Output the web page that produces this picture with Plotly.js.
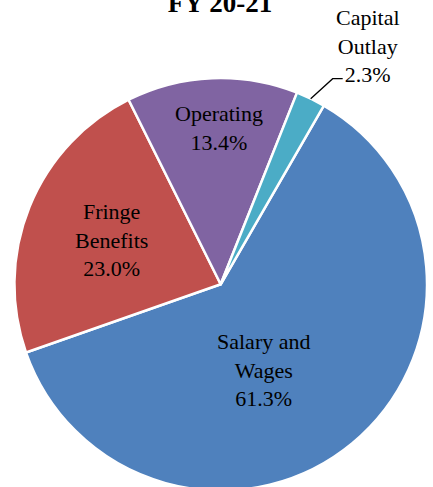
<!DOCTYPE html>
<html>
<head>
<meta charset="utf-8">
<script src="https://cdn.plot.ly/plotly-3.0.1.min.js"></script>
<style>
html,body{margin:0;padding:0;overflow:hidden;background:#fff;}
#chart{width:433px;height:495px;}
</style>
</head>
<body>
<div id="chart"></div>
<script>
// ---- data ----
const categories = ["Salary and Wages", "Fringe Benefits", "Operating", "Capital Outlay"];
const labelText = ["Salary and<br>Wages", "Fringe<br>Benefits", "Operating", "Capital<br>Outlay"];
const values = [61.3, 23.0, 13.4, 2.3];
const titleText = "FY 20-21";

// ---- styles / layout ----
const colors = ["#4F81BD", "#C0504D", "#8064A2", "#4BACC6"];
const W = 433, H = 495;
const cx = 220.7, cy = 284.3, R = 206.3;   // pixel geometry of the pie
const rotation = 30;                      // start angle of first slice (clockwise from 12 o'clock)
// label offsets from pie centre (pixels)
const labelOff = [[42.3, 85.7], [-109.7, -44.3], [-1.7, -156.8], [147.3, -238.3]];
const serif = "Liberation Serif, Times New Roman, serif";

const px = x => x / W;
const py = y => (H - y) / H;
const total = values.reduce((a, b) => a + b, 0);

const annotations = values.map((v, i) => ({
  xref: "paper", yref: "paper",
  x: px(cx + labelOff[i][0]), y: py(cy + labelOff[i][1]),
  xanchor: "center", yanchor: "middle",
  text: labelText[i] + "<br>" + v.toFixed(1) + "%",
  showarrow: false,
  font: {family: serif, size: 22, color: "#000"}
}));

// leader line for the small slice (last)
let cum = 0;
for (let i = 0; i < values.length - 1; i++) cum += values[i];
const midA = (rotation + (cum + values[values.length - 1] / 2) / total * 360) * Math.PI / 180;
const sx = cx + R * Math.sin(midA), sy = cy - R * Math.cos(midA);
const shapes = [{
  type: "path", xref: "paper", yref: "paper",
  path: `M ${px(sx)} ${py(sy)} L ${px(sx + 22)} ${py(sy - 20)} L ${px(sx + 32)} ${py(sy - 20)}`,
  line: {color: "#000", width: 1.3}
}];

const trace = {
  type: "pie",
  labels: categories,
  values: values,
  sort: false,
  direction: "clockwise",
  rotation: rotation,
  textinfo: "none",
  hoverinfo: "label+percent",
  marker: {colors: colors, line: {color: "#ffffff", width: 2.5}},
  domain: {x: [px(cx - R), px(cx + R)], y: [py(cy + R), py(cy - R)]},
  showlegend: false
};

const layout = {
  width: W, height: H,
  margin: {l: 0, r: 0, t: 0, b: 0},
  paper_bgcolor: "#fff",
  showlegend: false,
  title: {
    text: "<b>" + titleText + "</b>",
    x: px(220), xanchor: "center", xref: "container",
    y: py(3), yanchor: "middle", yref: "container",
    font: {family: serif, size: 27, color: "#000"}
  },
  annotations: annotations,
  shapes: shapes
};

Plotly.newPlot("chart", [trace], layout, {displayModeBar: false, staticPlot: true});
</script>
</body>
</html>
